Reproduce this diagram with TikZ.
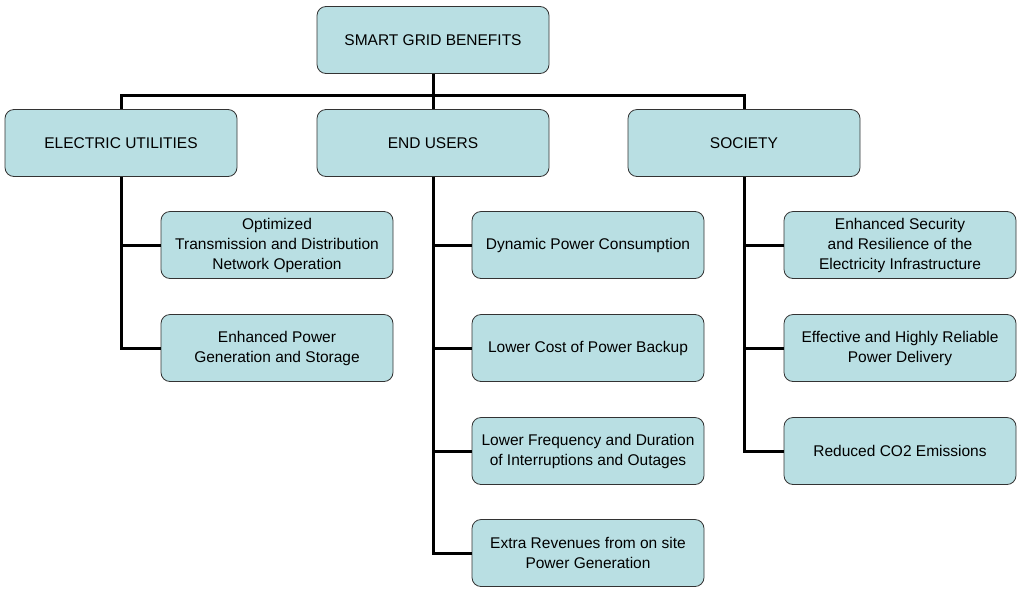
\documentclass[tikz,border=0pt]{standalone}
\usepackage{fontspec}
\setmainfont{Liberation Sans}
\begin{document}
\begin{tikzpicture}[x=1pt,y=-1pt,
  box/.style={draw=black!80,line width=0.8pt,fill={rgb,255:red,185;green,223;blue,227},rounded corners=9pt,minimum width=232pt,minimum height=67pt,align=center,font=\fontsize{15.5}{20}\selectfont,inner sep=2pt},
  conn/.style={line width=3pt,black}]
\useasboundingbox (0,0) rectangle (1024,595);
\node[box] (top) at (433,40) {SMART GRID BENEFITS};
\node[box] (eu) at (121,143) {ELECTRIC UTILITIES};
\node[box] (us) at (433,143) {END USERS};
\node[box] (so) at (744,143) {SOCIETY};
\node[box] (e1) at (277,245) {Optimized\\Transmission and Distribution\\Network Operation};
\node[box] (e2) at (277,348) {Enhanced Power\\Generation and Storage};
\node[box] (u1) at (588,245) {Dynamic Power Consumption};
\node[box] (u2) at (588,348) {Lower Cost of Power Backup};
\node[box] (u3) at (588,451) {Lower Frequency and Duration\\of Interruptions and Outages};
\node[box] (u4) at (588,553) {Extra Revenues from on site\\Power Generation};
\node[box] (s1) at (900,245) {Enhanced Security\\and Resilience of the\\Electricity Infrastructure};
\node[box] (s2) at (900,348) {Effective and Highly Reliable\\Power Delivery};
\node[box] (s3) at (900,451) {Reduced CO2 Emissions};
\coordinate (j) at (433,95);
\begin{scope}[on background layer/.try]
\draw[conn] (top.south) -- (j);
\draw[conn] (eu.north) |- (j) -| (so.north);
\draw[conn] (j) -- (us.north);
\draw[conn] (eu.south) |- (e2.west);
\draw[conn] (eu.south |- e1.west) -- (e1.west);
\draw[conn] (us.south) |- (u4.west);
\foreach \n in {u1,u2,u3} \draw[conn] (us.south |- \n.west) -- (\n.west);
\draw[conn] (so.south) |- (s3.west);
\foreach \n in {s1,s2} \draw[conn] (so.south |- \n.west) -- (\n.west);
\end{scope}
\end{tikzpicture}
\end{document}
